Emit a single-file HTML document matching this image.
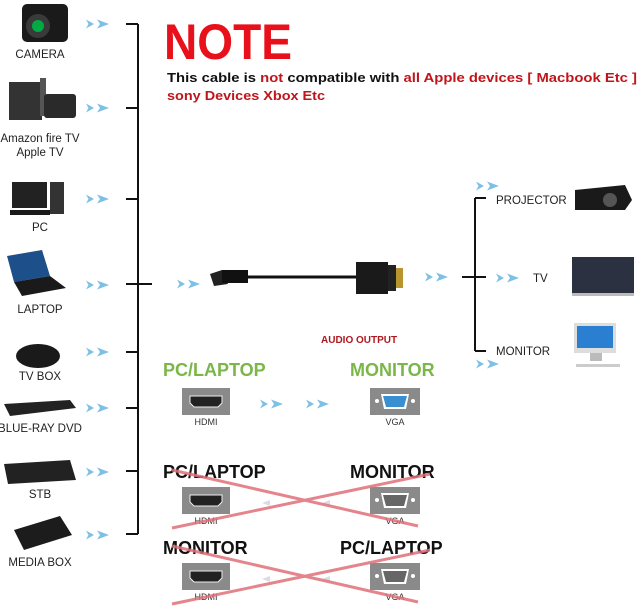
<!DOCTYPE html>
<html><head><meta charset="utf-8"><style>
html,body{margin:0;padding:0;background:#fff;width:640px;height:609px;overflow:hidden}
svg{display:block;font-family:"Liberation Sans",sans-serif}
</style></head><body>
<svg width="640" height="609" viewBox="0 0 640 609" xmlns="http://www.w3.org/2000/svg">
<defs>
<g id="arr"><path d="M0,-4.5 L8,0 L0,4.5 L2.5,0Z" fill="#7cc0e6"/><path d="M11,-4.5 L23,0 L11,4.5 L14,0Z" fill="#7cc0e6"/></g>
<g id="hdmi"><rect x="0" y="0" width="48" height="27" fill="#8a8a8a"/><path d="M8,8 H40 V15 L36,19 H12 L8,15Z" fill="#222" stroke="#eee" stroke-width="1"/></g>
<g id="vga"><rect x="0" y="0" width="50" height="27" fill="#8a8a8a"/><circle cx="7" cy="13" r="2" fill="#fff"/><circle cx="43" cy="13" r="2" fill="#fff"/><path d="M11,6 H39 L36,21 H14Z" fill="#fff"/><path d="M13,8 H37 L34,19 H16Z" fill="#3a8fd0"/></g>
<g id="vgag"><rect x="0" y="0" width="50" height="27" fill="#8a8a8a"/><circle cx="7" cy="13" r="2" fill="#fff"/><circle cx="43" cy="13" r="2" fill="#fff"/><path d="M11,6 H39 L36,21 H14Z" fill="#fff"/><path d="M13,8 H37 L34,19 H16Z" fill="#666"/></g>
</defs>
<g stroke="#111" stroke-width="2">
<line x1="138" y1="24" x2="138" y2="534"/>
<line x1="126" y1="24" x2="138" y2="24"/><line x1="126" y1="108" x2="138" y2="108"/>
<line x1="126" y1="199" x2="138" y2="199"/><line x1="126" y1="284" x2="152" y2="284"/>
<line x1="126" y1="352" x2="138" y2="352"/><line x1="126" y1="408" x2="138" y2="408"/>
<line x1="126" y1="471" x2="138" y2="471"/><line x1="126" y1="534" x2="138" y2="534"/>
</g>
<use href="#arr" x="86" y="24"/><use href="#arr" x="86" y="108"/><use href="#arr" x="86" y="199"/>
<use href="#arr" x="86" y="285"/><use href="#arr" x="86" y="352"/><use href="#arr" x="86" y="408"/>
<use href="#arr" x="86" y="472"/><use href="#arr" x="86" y="535"/>
<g fill="#1a1a1a">
<rect x="22" y="4" width="46" height="38" rx="5"/><circle cx="38" cy="26" r="12" fill="#3a3a3a"/><circle cx="38" cy="26" r="6" fill="#0a4"/>
<rect x="9" y="82" width="33" height="38" fill="#333"/><rect x="40" y="78" width="6" height="38" fill="#555"/><rect x="44" y="94" width="32" height="24" rx="3" fill="#2a2a2a"/>
<rect x="12" y="182" width="35" height="26" fill="#222"/><rect x="10" y="210" width="40" height="5"/><rect x="50" y="182" width="14" height="32" fill="#333"/>
<path d="M7,256 L42,250 L50,276 L14,282Z" fill="#1d4f8a"/><path d="M14,282 L50,276 L66,288 L22,296Z"/>
<ellipse cx="38" cy="356" rx="22" ry="12"/>
<path d="M4,404 L70,400 L76,408 L10,416Z" fill="#222"/>
<path d="M4,464 L70,460 L76,480 L8,484Z" fill="#222"/>
<path d="M14,530 L60,516 L72,535 L24,550Z" fill="#1c1c1c"/>
<path d="M575,190 L625,185 L632,200 L625,210 L575,210Z"/><circle cx="610" cy="200" r="7" fill="#555"/>
<rect x="572" y="257" width="62" height="36" fill="#2b3140"/><rect x="572" y="293" width="62" height="3" fill="#bbb"/>
<rect x="574" y="323" width="42" height="30" fill="#ddd"/><rect x="577" y="326" width="36" height="22" fill="#2b7fd0"/><rect x="590" y="353" width="12" height="8" fill="#bbb"/><rect x="576" y="364" width="44" height="3" fill="#ccc"/>
</g>
<g font-size="11.5" fill="#222" text-anchor="middle">
<text x="40" y="58">CAMERA</text>
<text x="40" y="142">Amazon fire TV</text><text x="40" y="156">Apple TV</text>
<text x="40" y="231">PC</text><text x="40" y="313">LAPTOP</text>
<text x="40" y="380">TV BOX</text><text x="40" y="432">BLUE-RAY DVD</text>
<text x="40" y="498">STB</text><text x="40" y="566">MEDIA BOX</text>
</g>
<text x="164" y="59" font-size="50" font-weight="bold" fill="#e8101a" textLength="128" lengthAdjust="spacingAndGlyphs">NOTE</text>
<text x="167" y="82" font-size="13" font-weight="bold" fill="#111" textLength="470" lengthAdjust="spacingAndGlyphs">This cable is <tspan fill="#c0151b">not</tspan> compatible with <tspan fill="#c0151b">all Apple devices [ Macbook Etc ]</tspan></text>
<text x="167" y="100" font-size="13" font-weight="bold" fill="#c0151b" textLength="158" lengthAdjust="spacingAndGlyphs">sony Devices Xbox Etc</text>
<use href="#arr" x="177" y="284"/>
<path d="M210,274 L222,270 L228,284 L214,286Z" fill="#222"/><rect x="222" y="270" width="26" height="13" fill="#111"/>
<line x1="248" y1="277" x2="358" y2="277" stroke="#111" stroke-width="3"/>
<rect x="356" y="262" width="32" height="32" fill="#1a1a1a"/><rect x="388" y="265" width="8" height="26" fill="#222"/><rect x="396" y="268" width="7" height="20" fill="#b9952e"/>
<use href="#arr" x="425" y="277"/>
<g stroke="#111" stroke-width="2">
<line x1="475" y1="198" x2="475" y2="351"/><line x1="475" y1="198" x2="486" y2="198"/><line x1="475" y1="351" x2="486" y2="351"/><line x1="462" y1="277" x2="486" y2="277"/>
</g>
<use href="#arr" x="476" y="186"/><use href="#arr" x="496" y="278"/><use href="#arr" x="476" y="364"/>
<g font-size="11.5" fill="#222"><text x="496" y="204">PROJECTOR</text><text x="533" y="282">TV</text><text x="496" y="355">MONITOR</text></g>
<text x="321" y="343" font-size="10" font-weight="bold" fill="#b01820">AUDIO OUTPUT</text>
<g font-size="18" font-weight="bold">
<text x="163" y="376" fill="#7ab648">PC/LAPTOP</text><text x="350" y="376" fill="#7ab648">MONITOR</text>
<text x="163" y="478" fill="#111">PC/LAPTOP</text><text x="350" y="478" fill="#111">MONITOR</text>
<text x="163" y="554" fill="#111">MONITOR</text><text x="340" y="554" fill="#111">PC/LAPTOP</text>
</g>
<use href="#hdmi" x="182" y="388"/><use href="#vga" x="370" y="388"/>
<use href="#hdmi" x="182" y="487"/><use href="#vgag" x="370" y="487"/>
<use href="#hdmi" x="182" y="563"/><use href="#vgag" x="370" y="563"/>
<g font-size="9" fill="#333" text-anchor="middle">
<text x="206" y="425">HDMI</text><text x="395" y="425">VGA</text>
<text x="206" y="524">HDMI</text><text x="395" y="524">VGA</text>
<text x="206" y="600">HDMI</text><text x="395" y="600">VGA</text>
</g>
<use href="#arr" x="260" y="404"/><use href="#arr" x="306" y="404"/>
<g fill="#ccd" opacity="0.7"><path d="M270,500 L262,503 L270,506Z"/><path d="M330,500 L322,503 L330,506Z"/><path d="M270,576 L262,579 L270,582Z"/><path d="M330,576 L322,579 L330,582Z"/></g>
<g stroke="#e0707a" stroke-width="3" opacity="0.85">
<line x1="172" y1="470" x2="418" y2="526"/><line x1="172" y1="528" x2="430" y2="474"/>
<line x1="172" y1="546" x2="418" y2="602"/><line x1="172" y1="604" x2="430" y2="550"/>
</g>
</svg>
</body></html>
